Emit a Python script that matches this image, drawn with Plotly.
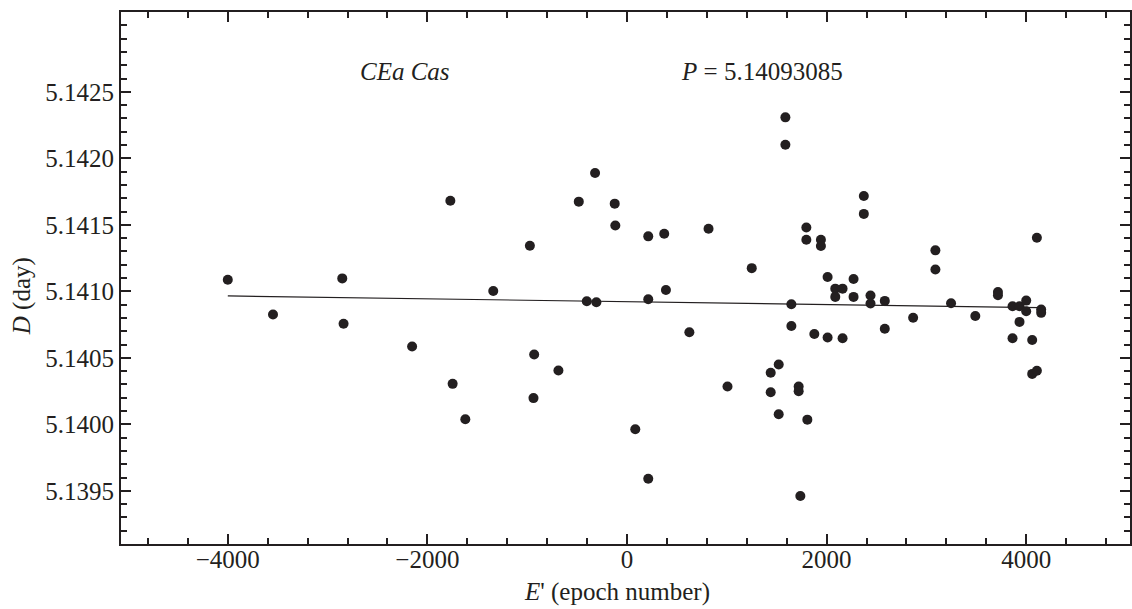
import plotly.graph_objects as go

# Epoch numbers E' and durations D (day)
epoch = [-4000, -3547, -2853, -2840, -2153, -1770, -1747, -1620, -1340, -973,
         -930, -937, -687, -483, -403, -320, -307, -123, -117, 83,
         213, 213, 213, 373, 390, 625, 817, 1007, 1250, 1440,
         1440, 1520, 1520, 1587, 1587, 1647, 1647, 1720, 1720, 1737,
         1797, 1797, 1807, 1877, 1943, 1943, 2010, 2010, 2087, 2087,
         2160, 2160, 2270, 2270, 2373, 2373, 2440, 2440, 2583, 2583,
         2867, 3090, 3090, 3247, 3490, 3717, 3717, 3863, 3863, 3933,
         3933, 4000, 4000, 4060, 4060, 4107, 4107, 4150, 4150]
duration = [5.141087, 5.140826, 5.141097, 5.140756, 5.140585, 5.141681, 5.140304, 5.140038, 5.141002, 5.141343,
            5.140525, 5.140197, 5.140405, 5.141674, 5.140925, 5.141890, 5.140918, 5.141659, 5.141495, 5.139963,
            5.141413, 5.140940, 5.139590, 5.141433, 5.141010, 5.140692, 5.141470, 5.140284, 5.141174, 5.140388,
            5.140241, 5.140450, 5.140075, 5.142308, 5.142102, 5.140903, 5.140739, 5.140284, 5.140249, 5.139461,
            5.141480, 5.141388, 5.140035, 5.140679, 5.141388, 5.141341, 5.141107, 5.140652, 5.141020, 5.140958,
            5.141020, 5.140647, 5.141092, 5.140958, 5.141716, 5.141582, 5.140968, 5.140908, 5.140928, 5.140719,
            5.140801, 5.141308, 5.141164, 5.140910, 5.140814, 5.140995, 5.140970, 5.140888, 5.140647, 5.140888,
            5.140770, 5.140930, 5.140850, 5.140634, 5.140379, 5.140403, 5.141403, 5.140863, 5.140838]

# Linear fit line
fit_x = [-4000, 4150]
fit_y = [5.140965, 5.140877]

x_ticks = [-4000, -2000, 0, 2000, 4000]
x_tick_labels = ["\u22124000", "\u22122000", "0", "2000", "4000"]
y_ticks = [5.1395, 5.1400, 5.1405, 5.1410, 5.1415, 5.1420, 5.1425]
y_tick_labels = ["5.1395", "5.1400", "5.1405", "5.1410", "5.1415", "5.1420", "5.1425"]

ink = "#231f20"
font = "Liberation Serif, Times New Roman, serif"

fig = go.Figure()
fig.add_trace(go.Scatter(x=fit_x, y=fit_y, mode="lines",
                         line=dict(color=ink, width=1.2), showlegend=False))
fig.add_trace(go.Scatter(x=epoch, y=duration, mode="markers",
                         marker=dict(color=ink, size=10), showlegend=False))

axis_common = dict(showline=True, linecolor=ink, linewidth=2, mirror="allticks",
                   ticks="inside", ticklen=10, tickwidth=1.5, tickcolor=ink,
                   showgrid=False, zeroline=False,
                   tickfont=dict(family=font, size=25, color=ink))

fig.update_xaxes(range=[-5070, 5040], tickvals=x_ticks, ticktext=x_tick_labels,
                 ticklabelstandoff=-8,
                 minor=dict(dtick=400, tick0=0, ticks="inside", ticklen=6, tickwidth=1.5, tickcolor=ink),
                 **axis_common)
fig.update_yaxes(range=[5.1391, 5.1431], tickvals=y_ticks, ticktext=y_tick_labels,
                 minor=dict(dtick=0.0001, tick0=5.1391, ticks="inside", ticklen=6, tickwidth=1.5, tickcolor=ink),
                 **axis_common)

fig.add_annotation(x=-2220, y=5.14265, xref="x", yref="y", text="<i>CEa Cas</i>",
                   xanchor="center", yanchor="middle",
                   showarrow=False, font=dict(family=font, size=25, color=ink))
fig.add_annotation(x=1350, y=5.14265, xref="x", yref="y", text="<i>P</i> = 5.14093085",
                   xanchor="center", yanchor="middle",
                   showarrow=False, font=dict(family=font, size=25, color=ink))
fig.add_annotation(x=(618 - 121) / 1011, y=(544 - 608) / 532, xref="paper", yref="paper",
                   text="<i>E</i>' (epoch number)", showarrow=False,
                   xanchor="center", yanchor="bottom",
                   font=dict(family=font, size=25, color=ink))
fig.add_annotation(x=(22 - 121) / 1011, y=(544 - 296) / 532, xref="paper", yref="paper",
                   text="<i>D</i> (day)", textangle=-90, showarrow=False,
                   xanchor="center", yanchor="middle",
                   font=dict(family=font, size=25, color=ink))

fig.update_layout(width=1132, height=609, margin=dict(l=121, r=0, t=12, b=65),
                  paper_bgcolor="white", plot_bgcolor="white")

fig.write_html("out.html", config={"displayModeBar": False},
               post_script="document.body.style.margin='0px';document.body.style.overflow='hidden';")
